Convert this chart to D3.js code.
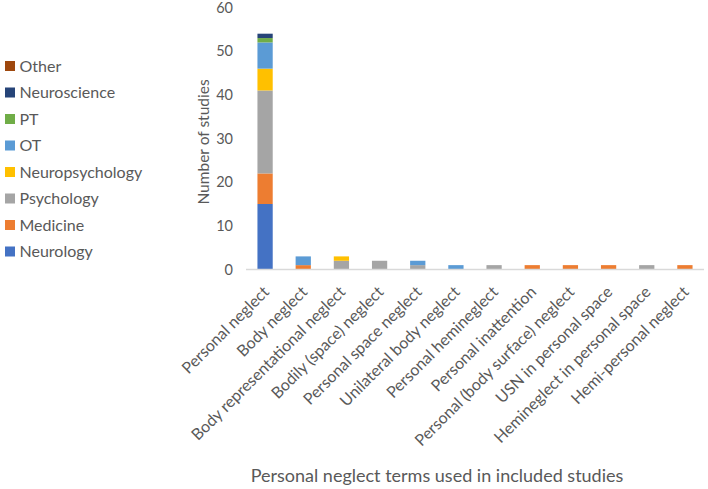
<!DOCTYPE html>
<html><head><meta charset="utf-8">
<script src="https://cdn.jsdelivr.net/npm/d3@7"></script>
<style>body{margin:0;background:#fff}svg{display:block}text{font-family:Lato,"Liberation Sans",sans-serif;fill:#595959}</style>
</head><body><svg id="c" width="708" height="489"></svg>
<script>
const categories = ["Personal neglect","Body neglect","Body representational neglect","Bodily (space) neglect","Personal space neglect","Unilateral body neglect","Personal hemineglect","Personal inattention","Personal (body surface) neglect","USN in personal space","Hemineglect in personal space","Hemi-personal neglect"];
const seriesNames = ["Neurology","Medicine","Psychology","Neuropsychology","OT","PT","Neuroscience","Other"];
const seriesColors = ["#4472C4","#ED7D31","#A5A5A5","#FFC000","#5B9BD5","#70AD47","#264478","#9E480E"];
const neurology       = [15,0,0,0,0,0,0,0,0,0,0,0];
const medicine        = [7,1,0,0,0,0,0,1,1,1,0,1];
const psychology      = [19,0,2,2,1,0,1,0,0,0,1,0];
const neuropsychology = [5,0,1,0,0,0,0,0,0,0,0,0];
const ot              = [6,2,0,0,1,1,0,0,0,0,0,0];
const pt              = [1,0,0,0,0,0,0,0,0,0,0,0];
const neuroscience    = [1,0,0,0,0,0,0,0,0,0,0,0];
const other           = [0,0,0,0,0,0,0,0,0,0,0,0];
const yTicks = [0,10,20,30,40,50,60];

const seriesVals = [neurology,medicine,psychology,neuropsychology,ot,pt,neuroscience,other];
const rows = categories.map((c,i)=>{const r={cat:c};seriesNames.forEach((s,j)=>r[s]=seriesVals[j][i]);return r;});
const stack = d3.stack().keys(seriesNames)(rows);

const svg = d3.select("#c");
const x = d3.scaleBand().domain(categories).range([246,704]).paddingInner(0.6).paddingOuter(0.3);
const y = d3.scaleLinear().domain([0,60]).range([269.5,7.5]);

// bars
svg.append("g").selectAll("g").data(stack).join("g")
  .attr("fill",(d,i)=>seriesColors[i])
  .selectAll("rect").data(d=>d).join("rect")
  .attr("x",(d,i)=>x(categories[i]))
  .attr("width",x.bandwidth())
  .attr("y",d=>y(d[1]))
  .attr("height",d=>y(d[0])-y(d[1]));

// x axis line
svg.append("line").attr("x1",246).attr("x2",704).attr("y1",y(0)).attr("y2",y(0))
  .attr("stroke","#d9d9d9").attr("stroke-width",1.3);

// y tick labels
svg.append("g").selectAll("text").data(yTicks).join("text")
  .attr("x",233).attr("y",d=>y(d)).attr("dy","0.36em")
  .attr("text-anchor","end").attr("font-size",14.5).text(d=>d);

// y title
svg.append("text").attr("transform","translate(209,142) rotate(-90)")
  .attr("text-anchor","middle").attr("font-size",15.5).text("Number of studies");

// x labels
svg.append("g").selectAll("text").data(categories).join("text")
  .attr("transform",d=>`translate(${x(d)+x.bandwidth()/2+5},${293}) rotate(-45)`)
  .attr("text-anchor","end").attr("font-size",16).text(d=>d);

// x title
svg.append("text").attr("x",437).attr("y",482).attr("text-anchor","middle")
  .attr("font-size",18).text("Personal neglect terms used in included studies");

// legend
const leg = svg.append("g").selectAll("g").data(seriesNames.slice().reverse()).join("g")
  .attr("transform",(d,i)=>`translate(5,${66+i*26.5})`);
leg.append("rect").attr("x",0).attr("y",-5).attr("width",10).attr("height",10)
  .attr("fill",d=>seriesColors[seriesNames.indexOf(d)]);
leg.append("text").attr("x",14.5).attr("dy","0.36em").attr("font-size",16).text(d=>d);
</script></body></html>
